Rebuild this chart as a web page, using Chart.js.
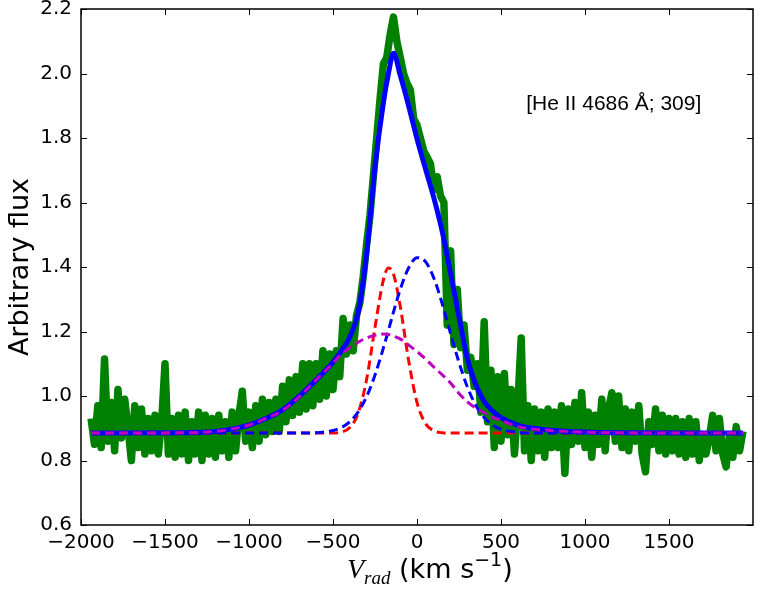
<!DOCTYPE html>
<html><head><meta charset="utf-8">
<script src="https://cdn.jsdelivr.net/npm/chart.js@4.4.1/dist/chart.umd.min.js"></script>
<style>html,body{margin:0;padding:0;background:#fff;} #wrap{width:762px;height:589px;}</style>
</head><body><div id="wrap"><canvas id="c" width="762" height="589"></canvas></div>
<script>
const xTicks = [-2000, -1500, -1000, -500, 0, 500, 1000, 1500];
const yTicks = [0.6, 0.8, 1.0, 1.2, 1.4, 1.6, 1.8, 2.0, 2.2];

// observed spectrum (green)
const greenX = [
-1940,-1920,-1900,-1880,-1860,-1840,-1820,-1800,-1780,-1760,
-1740,-1720,-1700,-1680,-1660,-1640,-1620,-1600,-1580,-1560,
-1540,-1520,-1500,-1480,-1460,-1440,-1420,-1400,-1380,-1360,
-1340,-1320,-1300,-1280,-1260,-1240,-1220,-1200,-1180,-1160,
-1140,-1120,-1100,-1080,-1060,-1040,-1020,-1000,-980,-960,
-940,-920,-900,-880,-860,-840,-820,-800,-780,-760,
-740,-720,-700,-680,-660,-640,-620,-600,-580,-560,
-540,-520,-500,-480,-460,-440,-420,-400,-380,-360,
-340,-320,-300,-280,-260,-240,-220,-200,-180,-160,
-140,-120,-100,-80,-60,-40,-20,0,20,40,
60,80,100,120,140,160,180,200,220,240,
260,280,300,320,340,360,380,400,420,440,
460,480,500,520,540,560,580,600,620,640,
660,680,700,720,740,760,780,800,820,840,
860,880,900,920,940,960,980,1000,1020,1040,
1060,1080,1100,1120,1140,1160,1180,1200,1220,1240,
1260,1280,1300,1320,1340,1360,1380,1400,1420,1440,
1460,1480,1500,1520,1540,1560,1580,1600,1620,1640,
1660,1680,1700,1720,1740,1760,1780,1800,1820,1840,
1860,1880,1900,1920,1940];
const greenY = [
0.93,0.85,0.97,0.84,1.115,0.86,0.98,0.83,1.02,0.87,
0.99,0.90,0.80,0.97,0.84,0.96,0.82,0.93,0.83,0.94,
0.82,0.92,1.10,0.82,0.93,0.81,0.94,0.82,0.95,0.80,
0.92,0.82,0.95,0.80,0.94,0.82,0.93,0.81,0.94,0.83,
0.92,0.81,0.95,0.83,0.94,1.015,0.86,0.95,0.84,0.97,
0.86,0.99,0.88,0.98,0.89,0.99,0.89,1.03,0.92,1.05,
0.94,1.06,0.95,1.10,0.96,1.10,0.97,1.10,0.99,1.14,
1.00,1.13,1.02,1.14,1.06,1.24,1.13,1.22,1.14,1.25,
1.29,1.37,1.47,1.56,1.68,1.80,1.92,2.03,2.05,2.12,
2.175,2.10,2.05,2.00,1.97,1.95,1.86,1.84,1.80,1.76,
1.74,1.72,1.64,1.68,1.62,1.60,1.22,1.45,1.16,1.33,
1.15,1.22,1.08,1.12,1.03,1.10,0.95,1.23,0.92,1.08,
0.84,1.06,0.86,1.07,0.88,1.02,0.82,0.97,1.18,0.83,
0.97,0.80,0.96,0.83,0.95,0.81,0.96,0.84,0.95,0.84,
0.97,0.76,0.96,0.85,0.98,0.86,1.01,0.84,0.95,0.81,
0.94,0.85,0.99,0.83,0.96,1.01,0.86,1.00,0.84,0.96,
0.83,0.95,0.86,0.97,0.82,0.765,0.92,0.85,0.96,0.83,
0.94,0.82,0.93,0.83,0.93,0.82,0.92,0.81,0.93,0.82,
0.92,0.80,0.88,0.82,0.87,0.94,0.83,0.93,0.82,0.78,
0.88,0.81,0.905,0.83,0.89];

// fitted model and its components
const modelX = [-1940,-1400,-1200,-1100,-1000,-900,-800,-700,-600,-500,
  -450,-400,-350,-300,-250,-200,-170,-140,-100,-50,
  0,50,100,150,200,250,300,350,400,450,
  500,600,700,800,1000,1200,1940];
const fitTotal = [0.885,0.886,0.890,0.898,0.910,0.930,0.957,1.000,1.050,1.105,
  1.140,1.183,1.260,1.440,1.710,1.910,2.000,2.063,1.995,1.900,
  1.797,1.705,1.615,1.510,1.380,1.245,1.115,1.035,0.983,0.953,
  0.933,0.910,0.899,0.894,0.888,0.886,0.885];
const compRed = [0.885,0.885,0.885,0.885,0.885,0.885,0.885,0.885,0.885,0.885,
  0.888,0.902,0.947,1.051,1.213,1.360,1.397,1.378,1.279,1.111,
  0.980,0.915,0.892,0.886,0.885,0.885,0.885,0.885,0.885,0.885,
  0.885,0.885,0.885,0.885,0.885,0.885,0.885];
const compBlue = [0.885,0.885,0.885,0.885,0.885,0.885,0.885,0.885,0.886,0.893,
  0.902,0.920,0.951,0.998,1.065,1.149,1.204,1.260,1.330,1.397,
  1.429,1.417,1.366,1.286,1.193,1.104,1.028,0.971,0.933,0.910,
  0.897,0.887,0.885,0.885,0.885,0.885,0.885];
const compMagenta = [0.885,0.886,0.890,0.898,0.910,0.930,0.955,0.998,1.050,1.102,
  1.130,1.150,1.167,1.180,1.188,1.192,1.191,1.186,1.177,1.158,
  1.138,1.115,1.090,1.066,1.040,1.008,0.982,0.963,0.948,0.934,
  0.924,0.905,0.897,0.893,0.888,0.886,0.885];

const annotationText = '[He II 4686 \u00C5; 309]';
const annotationPos = [650, 1.888];

const pts = (xs, ys) => xs.map((x, i) => ({x: x, y: ys[i]}));
const fmtX = v => (v < 0 ? '\u2212' + Math.abs(v) : String(v));

const framePlugin = {
  id: 'frame',
  afterDatasetsDraw(chart) {
    const {ctx, chartArea: a, scales: {x, y}} = chart;
    ctx.save();
    ctx.strokeStyle = '#000';
    ctx.lineWidth = 1;
    const tl = 6;
    ctx.beginPath();
    xTicks.forEach(v => {
      const p = Math.round(x.getPixelForValue(v)) + 0.5;
      ctx.moveTo(p, a.bottom); ctx.lineTo(p, a.bottom - tl);
      ctx.moveTo(p, a.top); ctx.lineTo(p, a.top + tl);
    });
    yTicks.forEach(v => {
      const p = Math.round(y.getPixelForValue(v)) + 0.5;
      ctx.moveTo(a.left, p); ctx.lineTo(a.left + tl, p);
      ctx.moveTo(a.right, p); ctx.lineTo(a.right - tl, p);
    });
    ctx.stroke();
    ctx.lineWidth = 1.5;
    ctx.strokeRect(a.left, a.top, a.right - a.left, a.bottom - a.top);
    ctx.restore();
  },
  afterDraw(chart) {
    const {ctx, scales: {x, y}} = chart;
    ctx.save();
    ctx.fillStyle = '#000';
    ctx.textBaseline = 'alphabetic';
    ctx.textAlign = 'left';
    ctx.font = '21px "Liberation Sans", Arial, sans-serif';
    ctx.fillText(annotationText, x.getPixelForValue(annotationPos[0]), y.getPixelForValue(annotationPos[1]));
    // x-axis label: V_rad (km s^-1)
    let cx = 347; const base = 578;
    const parts = [
      {t: 'V', f: 'italic 28px "Liberation Serif", serif', dy: 0},
      {t: 'rad', f: 'italic 19px "Liberation Serif", serif', dy: 6},
      {t: ' (km s', f: '27px "DejaVu Sans", sans-serif', dy: 0},
      {t: '\u22121', f: '19px "DejaVu Sans", sans-serif', dy: -12},
      {t: ')', f: '27px "DejaVu Sans", sans-serif', dy: 0}
    ];
    parts.forEach(p => {
      ctx.font = p.f;
      ctx.fillText(p.t, cx, base + p.dy);
      cx += ctx.measureText(p.t).width;
    });
    ctx.restore();
  }
};

new Chart(document.getElementById('c'), {
  type: 'line',
  data: {
    datasets: [
      {label: 'data', data: pts(greenX, greenY), borderColor: '#008000', borderWidth: 7.5,
       pointRadius: 0, borderJoinStyle: 'round', tension: 0, order: 5},
      {label: 'fit', data: pts(modelX, fitTotal), borderColor: '#0000ff', borderWidth: 5,
       pointRadius: 0, cubicInterpolationMode: 'monotone', order: 4},
      {label: 'narrow', data: pts(modelX, compRed), borderColor: '#ff0000', borderWidth: 3,
       borderDash: [9, 5], pointRadius: 0, cubicInterpolationMode: 'monotone', order: 3},
      {label: 'medium', data: pts(modelX, compBlue), borderColor: '#0000ff', borderWidth: 3,
       borderDash: [9, 5], pointRadius: 0, cubicInterpolationMode: 'monotone', order: 2},
      {label: 'broad', data: pts(modelX, compMagenta), borderColor: '#bf00bf', borderWidth: 3,
       borderDash: [9, 5], pointRadius: 0, cubicInterpolationMode: 'monotone', order: 1}
    ]
  },
  options: {
    responsive: false, animation: false, devicePixelRatio: 1,
    layout: {padding: {left: 0, right: 9, top: 9, bottom: 0}},
    plugins: {legend: {display: false}, tooltip: {enabled: false}},
    scales: {
      x: {
        type: 'linear', min: -2000, max: 2000,
        grid: {display: false, drawTicks: false}, border: {display: false},
        afterBuildTicks: s => { s.ticks = xTicks.map(v => ({value: v})); },
        afterFit: s => { s.height = 64; s.paddingLeft = 0; s.paddingRight = 0; },
        ticks: {font: {family: 'DejaVu Sans', size: 20}, color: '#000', padding: 6,
                maxRotation: 0, autoSkip: false, callback: v => fmtX(v)}
      },
      y: {
        type: 'linear', min: 0.6, max: 2.2,
        grid: {display: false, drawTicks: false}, border: {display: false},
        afterBuildTicks: s => { s.ticks = yTicks.map(v => ({value: v})); },
        afterFit: s => { s.width = 81; s.paddingTop = 0; s.paddingBottom = 0; },
        title: {display: true, text: 'Arbitrary flux', color: '#000',
                font: {family: 'DejaVu Sans', size: 27}, padding: {top: 5, bottom: 0}},
        ticks: {font: {family: 'DejaVu Sans', size: 20}, color: '#000', padding: 9,
                autoSkip: false, callback: v => v.toFixed(1)}
      }
    }
  },
  plugins: [framePlugin]
});
</script>
</body></html>
